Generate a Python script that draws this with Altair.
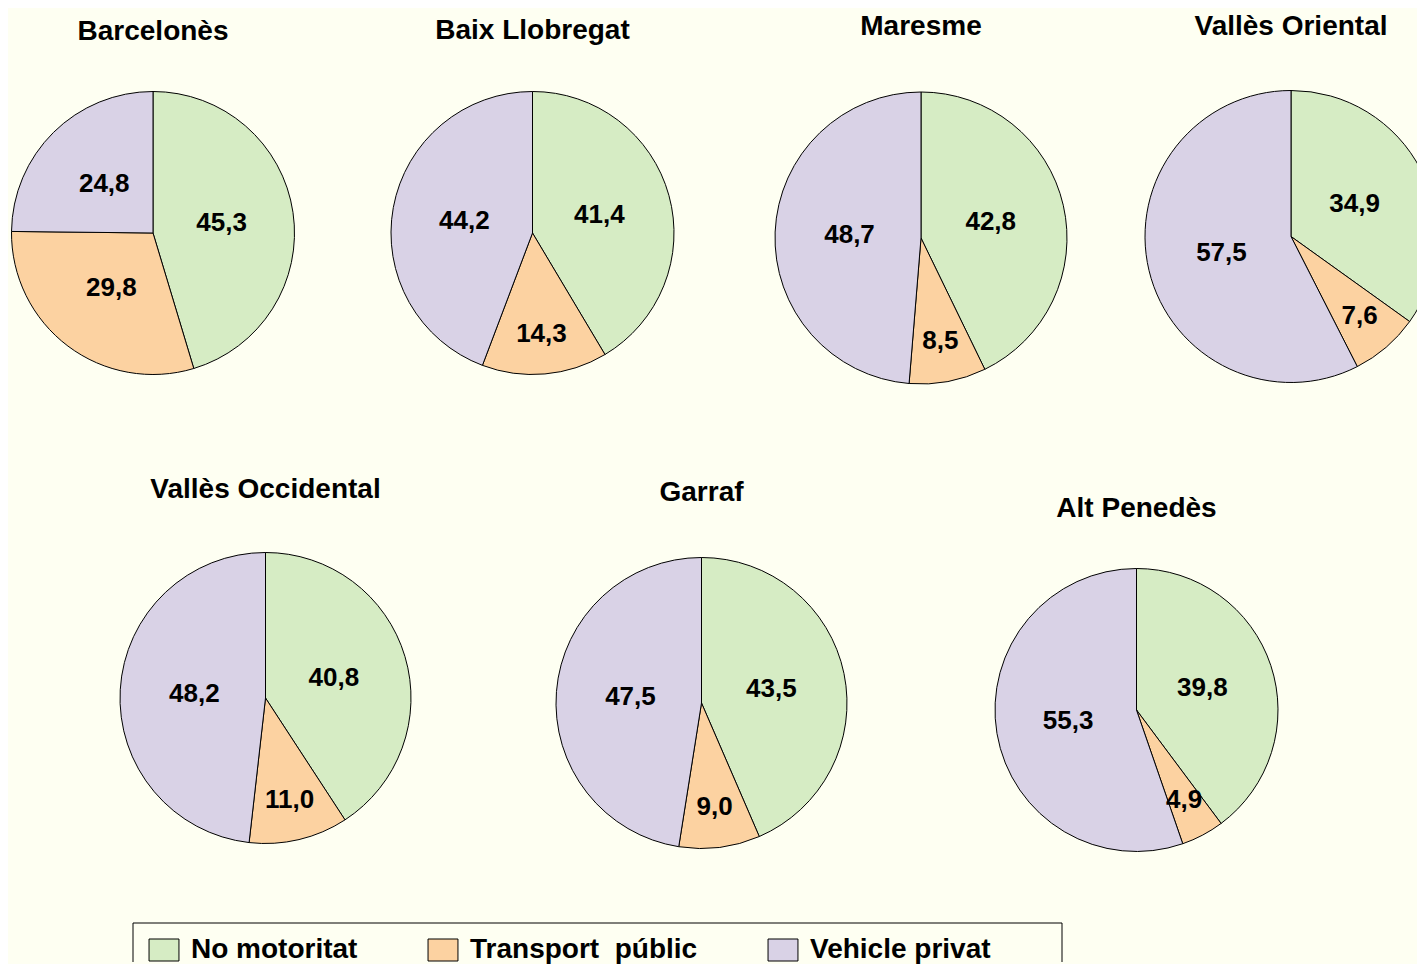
import altair as alt
import pandas as pd

# ---- data ----
comarques = ["Barcelonès", "Baix Llobregat", "Maresme", "Vallès Oriental",
             "Vallès Occidental", "Garraf", "Alt Penedès"]
modes = ["No motoritat", "Transport\u00a0 públic", "Vehicle privat"]
no_motoritat = [45.3, 41.4, 42.8, 34.9, 40.8, 43.5, 39.8]
transport_public = [29.8, 14.3, 8.5, 7.6, 11.0, 9.0, 4.9]
vehicle_privat = [24.8, 44.2, 48.7, 57.5, 48.2, 47.5, 55.3]
colors = ["#d6ecc4", "#fcd2a1", "#d9d2e6"]

FONT = "Liberation Sans"
BG = "#fefff2"

series = [no_motoritat, transport_public, vehicle_privat]
rows = []
for i, c in enumerate(comarques):
    total = sum(s[i] for s in series)
    start = 0.0
    for k, m in enumerate(modes):
        v = series[k][i]
        end = start + v
        rows.append({"comarca": c, "mode": m, "k": k, "value": v,
                     "t0": start / total, "t1": end / total,
                     "tm": (start + end) / 2 / total,
                     "label": f"{v:.1f}".replace(".", ",")})
        start = end
data = pd.DataFrame(rows)

theta_scale = alt.Scale(domain=[0, 1])
color_scale = alt.Scale(domain=modes, range=colors)


def pie(i, w, h, r, title_offset, dx=0, clip=False):
    df = data[data.comarca == comarques[i]].copy()
    # labels of small slices sit further out, as in the original
    df["lab_r"] = [r * (0.72 if v < 20 else 0.49) for v in df["value"]]
    arc = alt.Chart(df).mark_arc(radius=r, stroke="black", strokeWidth=1,
                                 xOffset=dx, clip=clip).encode(
        theta=alt.Theta("t0:Q", scale=theta_scale),
        theta2="t1:Q",
        color=alt.Color("mode:N", sort=modes, scale=color_scale, legend=None),
    )
    text = alt.Chart(df).mark_text(font=FONT, fontSize=26, fontWeight="bold",
                                   color="black", xOffset=dx).encode(
        theta=alt.Theta("tm:Q", scale=theta_scale),
        radius=alt.Radius("lab_r:Q", scale=None),
        text="label:N",
    )
    return alt.layer(arc, text).properties(
        width=w, height=h,
        title=alt.TitleParams(comarques[i], font=FONT, fontSize=28,
                              fontWeight="bold", color="black",
                              anchor="middle", offset=title_offset, dx=dx),
    )


row1 = alt.hconcat(
    pie(0, 290, 288, 141.5, 42.6),
    pie(1, 333, 288, 141.5, 43.6),
    pie(2, 308, 298, 146, 47.6),
    pie(3, 274, 295, 146, 47.6, dx=11, clip=True),
    spacing=68, bounds="flush",
)

row2 = alt.hconcat(
    pie(4, 515, 298, 145.5, 44.6),
    pie(5, 357, 308, 145.5, 41.6),
    pie(6, 513, 322, 141.5, 25.6),
    spacing=0, bounds="flush",
)

# legend panel: frame + colour legend
legend = alt.Legend(
    title=None, orient="none", legendX=142, legendY=14,
    direction="horizontal", padding=0,
    symbolType="M-1.36,-1H1.36V1H-1.36Z", symbolSize=484,
    symbolStrokeColor="black", symbolStrokeWidth=1, symbolOpacity=1,
    labelFont=FONT, labelFontSize=28, labelFontWeight="bold",
    labelColor="black", labelOffset=13, labelLimit=500, columnPadding=68,
)
legend_df = pd.DataFrame({"mode": modes})
frame = alt.Chart(pd.DataFrame({"frame": [0]})).mark_rect(
    fillOpacity=0, stroke="black", strokeWidth=1, clip=True
).encode(
    x=alt.value(125), x2=alt.value(1054), y=alt.value(1), y2=alt.value(80)
)
keys = alt.Chart(legend_df).mark_point(filled=True, opacity=0).encode(
    color=alt.Color("mode:N", sort=modes, scale=color_scale, legend=legend)
)
box = alt.layer(frame, keys).properties(width=1056, height=40)

upper = alt.vconcat(row1, row2, spacing=89)

chart = alt.vconcat(upper, box, spacing=51) \
    .resolve_scale(color="independent") \
    .resolve_legend(color="independent") \
    .properties(padding={"left": 0, "top": 5, "right": 0, "bottom": 0},
                background=BG) \
    .configure_view(stroke=None)

chart.save("out.html", embed_options={"renderer": "svg", "actions": False})
